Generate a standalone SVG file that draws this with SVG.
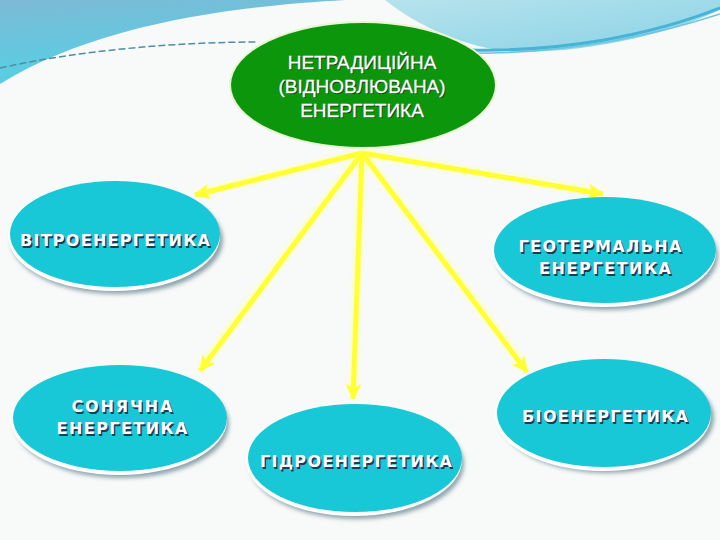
<svg xmlns="http://www.w3.org/2000/svg" width="720" height="540" viewBox="0 0 720 540">
<defs>
<linearGradient id="skyL" x1="0" y1="0" x2="0.3" y2="1">
<stop offset="0" stop-color="#7db9d6"/>
<stop offset="1" stop-color="#52d2e4"/>
</linearGradient>
<linearGradient id="skyR" x1="0" y1="0" x2="1" y2="1">
<stop offset="0" stop-color="#b6e3ec"/>
<stop offset="1" stop-color="#8ad2e6"/>
</linearGradient>
<filter id="blur" x="-20%" y="-20%" width="140%" height="140%"><feGaussianBlur stdDeviation="2"/></filter>
<filter id="glow" x="-20%" y="-20%" width="140%" height="140%"><feGaussianBlur stdDeviation="1.5"/></filter>
<marker id="ah" markerUnits="userSpaceOnUse" markerWidth="18" markerHeight="16" refX="15" refY="8" orient="auto">
<path d="M0,0 L16,8 L0,16 L4,8 Z" fill="#ffff33"/>
</marker>
</defs>
<style>
.node{fill:#19c8d6}
.shadow{fill:#8ea4ab;filter:url(#blur)}
.rim{fill:#ffffff}
.lbl{font-family:"DejaVu Sans",Verdana,sans-serif;font-weight:bold;font-size:16px;fill:#ffffff;text-anchor:middle}
.lblsh{font-family:"DejaVu Sans",Verdana,sans-serif;font-weight:bold;font-size:16px;fill:#203a55;text-anchor:middle}
.title{font-family:"Liberation Sans",Arial,sans-serif;font-size:19px;fill:#ffffff;text-anchor:middle;stroke:#ffffff;stroke-width:0.3}
.titlesh{font-family:"Liberation Sans",Arial,sans-serif;font-size:19px;fill:#0a3a0a;text-anchor:middle}
.arrow{stroke:#ffff33;stroke-width:5;fill:none;marker-end:url(#ah)}
.arrowglow{stroke:#fbffc8;stroke-width:9;fill:none}
</style>
<rect width="720" height="540" fill="#f8f9f9"/>
<!-- background waves -->
<path d="M0,0 H345 C240,6 100,22 0,84 Z" fill="url(#skyL)"/>
<path d="M0,68 C80,50 180,42 258,42" stroke="#4f8ea3" stroke-width="1.5" stroke-dasharray="7 3" fill="none"/>
<path d="M385,0 H720 V10 C660,38 580,52 520,52 C470,50 420,28 385,0 Z" fill="url(#skyR)"/>
<path d="M470,50 C560,52 650,36 720,8" stroke="#45b4d6" stroke-width="3" fill="none"/>
<path d="M430,52 C540,58 640,40 720,14" stroke="#6cc4de" stroke-width="1.5" fill="none"/>

<!-- central node -->
<g id="center">
<ellipse cx="363" cy="85" rx="134" ry="64" fill="#e8f5d2"/>
<ellipse cx="363" cy="85" rx="132" ry="62" fill="#0b960b"/>
<text class="titlesh" x="363" y="70">НЕТРАДИЦІЙНА</text>
<text class="titlesh" x="363" y="94">(ВІДНОВЛЮВАНА)</text>
<text class="titlesh" x="363" y="118">ЕНЕРГЕТИКА</text>
<text class="title" x="362" y="69">НЕТРАДИЦІЙНА</text>
<text class="title" x="362" y="93">(ВІДНОВЛЮВАНА)</text>
<text class="title" x="362" y="117">ЕНЕРГЕТИКА</text>
</g>

<!-- connectors -->
<g id="connectors">
<g filter="url(#glow)">
<line class="arrowglow" x1="362" y1="153" x2="197" y2="194"/>
<line class="arrowglow" x1="362" y1="153" x2="201" y2="368"/>
<line class="arrowglow" x1="362" y1="153" x2="353" y2="396"/>
<line class="arrowglow" x1="362" y1="153" x2="526" y2="369"/>
<line class="arrowglow" x1="362" y1="153" x2="600" y2="193"/>
</g>
<line class="arrow" x1="362" y1="153" x2="195" y2="195"/>
<line class="arrow" x1="362" y1="153" x2="200" y2="371"/>
<line class="arrow" x1="362" y1="153" x2="353" y2="399"/>
<line class="arrow" x1="362" y1="153" x2="527" y2="372"/>
<line class="arrow" x1="362" y1="153" x2="603" y2="194"/>
</g>

<g id="wind">
<ellipse class="shadow" cx="117" cy="240" rx="106" ry="54"/>
<ellipse class="rim" cx="114" cy="236" rx="106" ry="55"/>
<ellipse class="node" cx="115" cy="234" rx="105" ry="53"/>
<text class="lblsh" x="116.5" y="247.5" textLength="190" lengthAdjust="spacing">ВІТРОЕНЕРГЕТИКА</text>
<text class="lbl" x="115" y="246" textLength="190" lengthAdjust="spacing">ВІТРОЕНЕРГЕТИКА</text>
</g>

<g id="geothermal">
<ellipse class="shadow" cx="607" cy="256" rx="111" ry="54"/>
<ellipse class="rim" cx="604" cy="252" rx="112" ry="55"/>
<ellipse class="node" cx="605" cy="250" rx="111" ry="53"/>
<text class="lblsh" x="601.5" y="253.5" textLength="163" lengthAdjust="spacing">ГЕОТЕРМАЛЬНА</text>
<text class="lblsh" x="606.5" y="275.5" textLength="132" lengthAdjust="spacing">ЕНЕРГЕТИКА</text>
<text class="lbl" x="600" y="252" textLength="163" lengthAdjust="spacing">ГЕОТЕРМАЛЬНА</text>
<text class="lbl" x="605" y="274" textLength="132" lengthAdjust="spacing">ЕНЕРГЕТИКА</text>
</g>

<g id="solar">
<ellipse class="shadow" cx="122" cy="424" rx="107" ry="54"/>
<ellipse class="rim" cx="119" cy="420" rx="108" ry="55"/>
<ellipse class="node" cx="120" cy="418" rx="107" ry="53"/>
<text class="lblsh" x="123.5" y="413.5" textLength="101" lengthAdjust="spacing">СОНЯЧНА</text>
<text class="lblsh" x="123.5" y="435.5" textLength="131" lengthAdjust="spacing">ЕНЕРГЕТИКА</text>
<text class="lbl" x="122" y="412" textLength="101" lengthAdjust="spacing">СОНЯЧНА</text>
<text class="lbl" x="122" y="434" textLength="131" lengthAdjust="spacing">ЕНЕРГЕТИКА</text>
</g>

<g id="hydro">
<ellipse class="shadow" cx="357" cy="464" rx="107" ry="55"/>
<ellipse class="rim" cx="354" cy="460" rx="108" ry="56"/>
<ellipse class="node" cx="355" cy="458" rx="107" ry="54"/>
<text class="lblsh" x="357.5" y="468.5" textLength="192" lengthAdjust="spacing">ГІДРОЕНЕРГЕТИКА</text>
<text class="lbl" x="356" y="467" textLength="192" lengthAdjust="spacing">ГІДРОЕНЕРГЕТИКА</text>
</g>

<g id="bio">
<ellipse class="shadow" cx="607" cy="418" rx="107" ry="55"/>
<ellipse class="rim" cx="603" cy="415" rx="108" ry="56"/>
<ellipse class="node" cx="604" cy="413" rx="107" ry="54"/>
<text class="lblsh" x="606.5" y="423.5" textLength="166" lengthAdjust="spacing">БІОЕНЕРГЕТИКА</text>
<text class="lbl" x="605" y="422" textLength="166" lengthAdjust="spacing">БІОЕНЕРГЕТИКА</text>
</g>
</svg>
